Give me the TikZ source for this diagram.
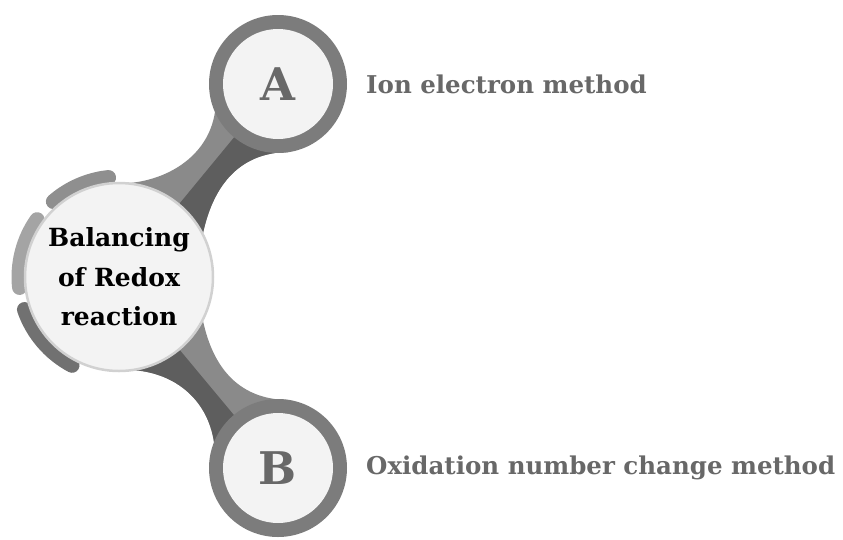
\documentclass[tikz,border=0pt]{standalone}
\usepackage{fontspec}
\setmainfont{DejaVu Serif}
\usetikzlibrary{positioning, calc, backgrounds}
\definecolor{ring}{HTML}{7C7C7C}
\definecolor{bandlight}{HTML}{8A8A8A}
\definecolor{banddark}{HTML}{5E5E5E}
\definecolor{face}{HTML}{F3F3F3}
\definecolor{label}{HTML}{686868}
\definecolor{arcdark}{HTML}{717171}
\definecolor{arcmid}{HTML}{8F8F8F}
\definecolor{arclight}{HTML}{A4A4A4}

\begin{document}
\begin{tikzpicture}[x=1pt, y=1pt,
    hub/.style={circle, fill=face, draw=black!18, line width=2.5pt,
                minimum size=188pt, inner sep=0pt, outer sep=0pt,
                align=center, font=\bfseries\fontsize{25}{39.5}\selectfont},
    ringnode/.style={circle, fill=ring, minimum size=138pt,
                     inner sep=0pt, outer sep=0pt},
    facenode/.style={circle, fill=face, minimum size=110pt, inner sep=0pt,
                     text=label, font=\bfseries\fontsize{45}{45}\selectfont},
    method/.style={anchor=west, inner sep=0pt, text=label,
                   font=\bfseries\fontsize{24.5}{30}\selectfont},
    arcseg/.style={line width=15pt, line cap=round}
  ]
  \useasboundingbox (0,0) rectangle (843,-539);

  \node[ringnode] (A) at (278,-84) {};
  \node[facenode] (Aface) at (A) {A};
  \node[ringnode] (B) at (278,-468) {};
  \node[facenode] (Bface) at (B) {B};
  \node[hub] (main) at (119,-277) {Balancing\\of Redox\\reaction};

  \node[method, right=19pt of A] (Atext) {Ion electron method};
  \node[method, right=19pt of B] (Btext) {Oxidation number change method};

  \begin{scope}[on background layer]
    % neck to A
    \begin{scope}
      \clip (main.86) .. controls +(39,2) and +(-7,-46) .. (A.204)
        -- (A.center) -- (A.280) .. controls +(-55,0) and +(9,43) .. (main.27)
        -- (main.center) -- cycle;
      \fill[bandlight] (0,0) rectangle (843,-539);
      \fill[banddark] (main.center) -- (A.center) -- ++(200,0)
        -- ($(main.center)+(200,0)$) -- cycle;
    \end{scope}
    % neck to B
    \begin{scope}
      \clip (main.278) .. controls +(39,-2) and +(-7,46) .. (B.158)
        -- (B.center) -- (B.80) .. controls +(-55,0) and +(9,-43) .. (main.333)
        -- (main.center) -- cycle;
      \fill[bandlight] (0,0) rectangle (843,-539);
      \fill[banddark] (main.center) -- (B.center) -- ++(-200,0)
        -- ($(main.center)+(-200,0)$) -- cycle;
    \end{scope}

    \draw[arcseg, arcmid] ([shift={(96:100)}]main.center)
      arc[start angle=96, end angle=131, radius=100];
    \draw[arcseg, arclight] ([shift={(145:100)}]main.center)
      arc[start angle=145, end angle=186, radius=100];
    \draw[arcseg, arcdark] ([shift={(199:100)}]main.center)
      arc[start angle=199, end angle=242, radius=100];
  \end{scope}
\end{tikzpicture}
\end{document}
